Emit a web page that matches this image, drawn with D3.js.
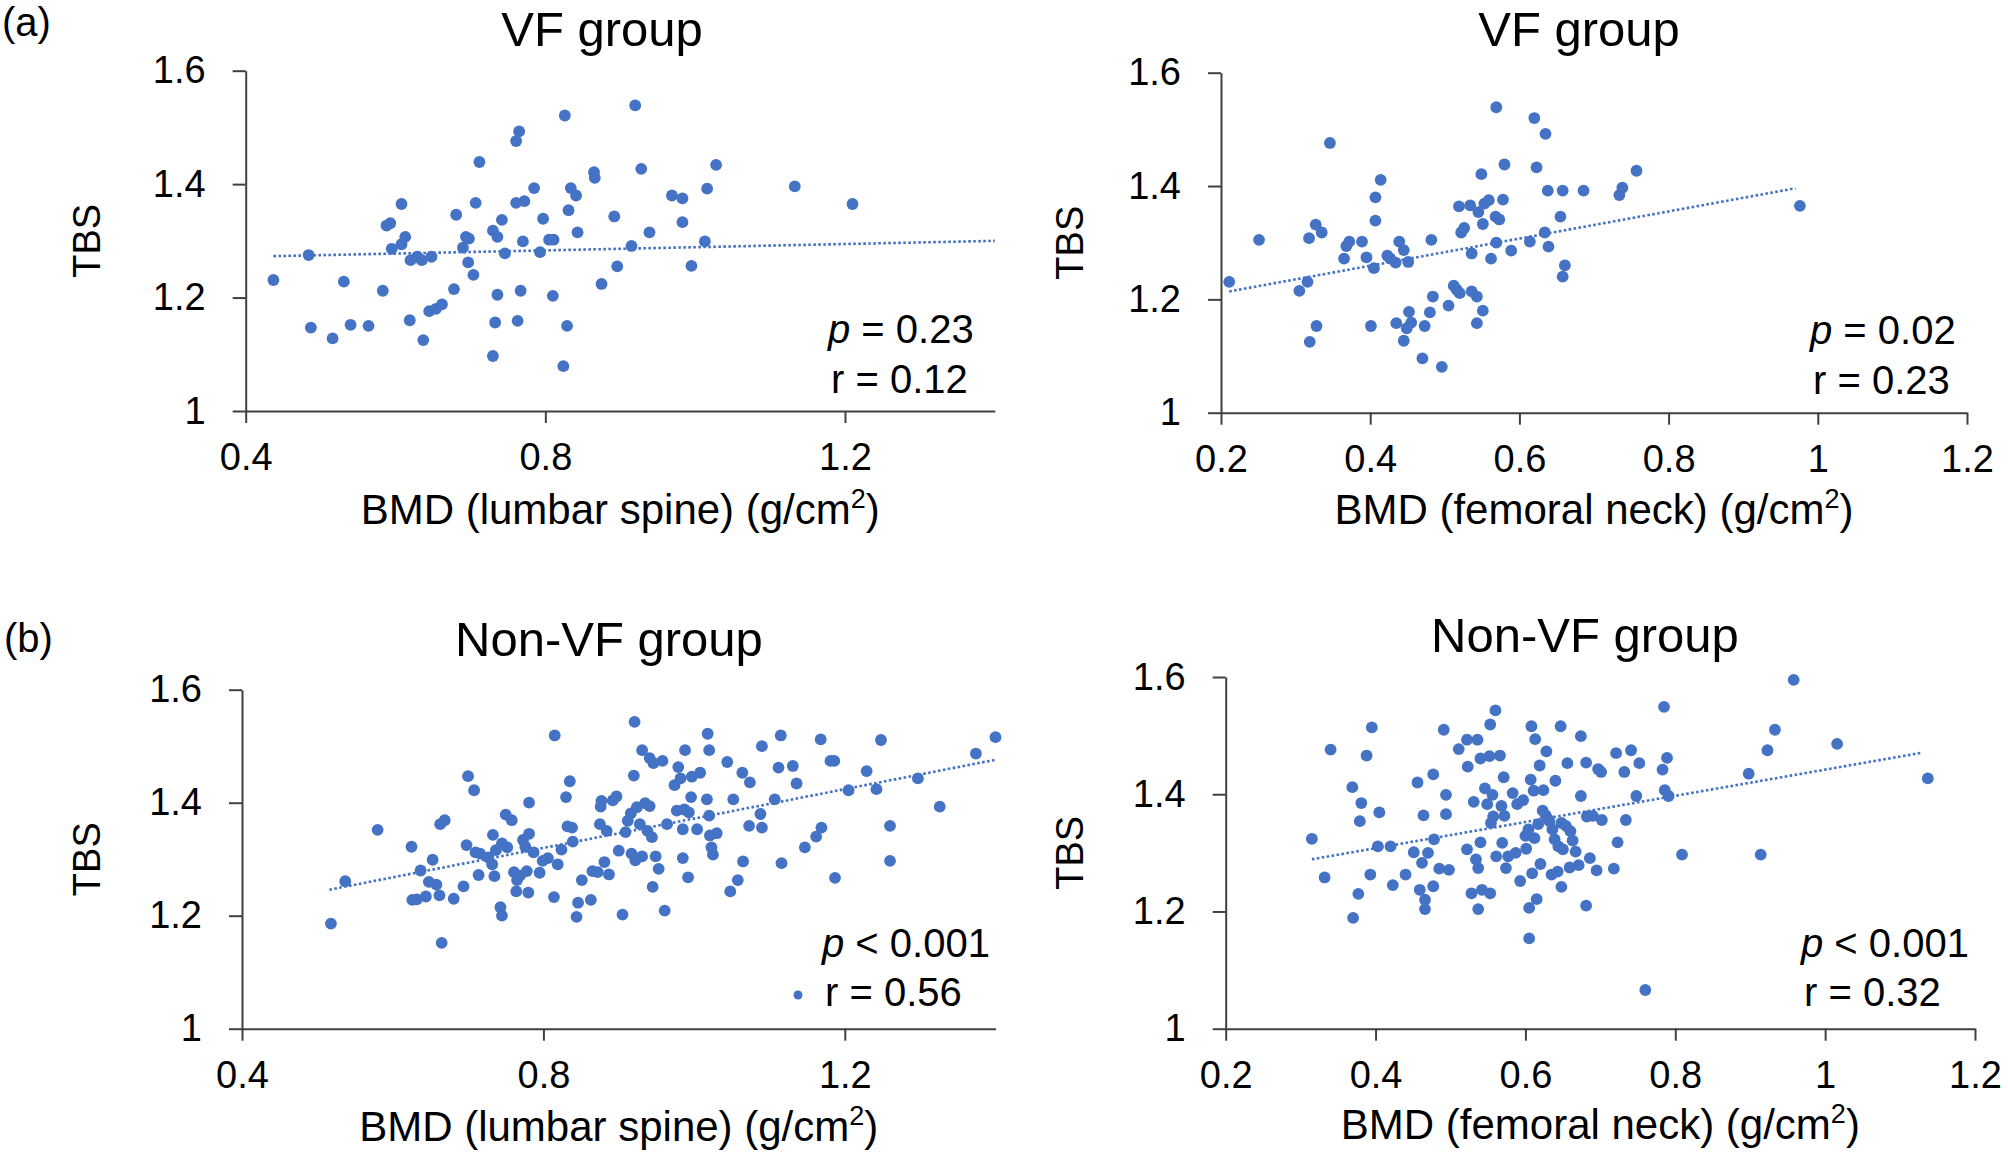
<!DOCTYPE html>
<html><head><meta charset="utf-8">
<script src="https://cdn.jsdelivr.net/npm/d3@7"></script>
<style>
body{margin:0;background:#fff}
svg{display:block}
text{font-family:"Liberation Sans",Arial,sans-serif;fill:#000}
</style>
</head><body>
<svg id="chart" width="2008" height="1152"></svg>
<script>
// ---- DATA (BMD g/cm2, TBS) ----
const vfLumbar = [[0.437,1.231],[0.484,1.275],[0.487,1.147],[0.516,1.128],[0.531,1.228],[0.540,1.152],[0.564,1.150],[0.583,1.212],[0.588,1.327],[0.593,1.331],[0.608,1.365],[0.613,1.307],[0.608,1.294],[0.595,1.286],[0.620,1.266],[0.629,1.272],[0.635,1.266],[0.648,1.272],[0.619,1.160],[0.637,1.125],[0.645,1.176],[0.654,1.180],[0.662,1.188],[0.678,1.215],[0.681,1.346],[0.690,1.288],[0.694,1.307],[0.698,1.304],[0.697,1.262],[0.704,1.240],[0.707,1.367],[0.712,1.439],[0.730,1.318],[0.736,1.307],[0.742,1.337],[0.746,1.278],[0.736,1.205],[0.733,1.156],[0.730,1.097],[0.761,1.476],[0.765,1.493],[0.761,1.367],[0.772,1.370],[0.770,1.299],[0.767,1.212],[0.763,1.159],[0.785,1.393],[0.793,1.280],[0.797,1.339],[0.805,1.302],[0.811,1.302],[0.810,1.203],[0.826,1.521],[0.831,1.354],[0.834,1.393],[0.841,1.380],[0.843,1.315],[0.829,1.150],[0.824,1.079],[0.865,1.421],[0.866,1.411],[0.875,1.224],[0.892,1.343],[0.896,1.255],[0.915,1.291],[0.920,1.539],[0.928,1.427],[0.939,1.315],[0.969,1.380],[0.983,1.375],[0.983,1.333],[0.995,1.256],[1.013,1.299],[1.016,1.392],[1.028,1.434],[1.133,1.396],[1.210,1.365]];
const vfFemoral = [[0.211,1.231],[0.251,1.305],[0.305,1.215],[0.316,1.231],[0.318,1.308],[0.327,1.332],[0.335,1.318],[0.328,1.153],[0.319,1.125],[0.346,1.476],[0.365,1.272],[0.368,1.294],[0.372,1.302],[0.389,1.302],[0.395,1.274],[0.405,1.255],[0.407,1.339],[0.407,1.380],[0.414,1.411],[0.401,1.153],[0.423,1.277],[0.427,1.272],[0.434,1.265],[0.439,1.302],[0.445,1.287],[0.451,1.266],[0.435,1.158],[0.452,1.178],[0.455,1.159],[0.449,1.149],[0.445,1.127],[0.473,1.153],[0.470,1.096],[0.480,1.177],[0.484,1.205],[0.482,1.305],[0.496,1.081],[0.505,1.189],[0.512,1.224],[0.516,1.217],[0.520,1.211],[0.519,1.364],[0.522,1.318],[0.526,1.326],[0.534,1.366],[0.536,1.281],[0.536,1.214],[0.543,1.205],[0.543,1.158],[0.551,1.180],[0.545,1.354],[0.549,1.421],[0.551,1.333],[0.553,1.369],[0.559,1.375],[0.562,1.272],[0.568,1.346],[0.573,1.341],[0.569,1.300],[0.569,1.539],[0.578,1.376],[0.580,1.438],[0.589,1.286],[0.614,1.302],[0.620,1.520],[0.623,1.433],[0.634,1.318],[0.635,1.492],[0.638,1.392],[0.639,1.293],[0.655,1.346],[0.658,1.392],[0.661,1.260],[0.658,1.240],[0.686,1.392],[0.734,1.384],[0.738,1.397],[0.757,1.427],[0.976,1.365]];
const nonVfLumbar = [[0.518,1.186],[0.537,1.261],[0.580,1.352],[0.625,1.322],[0.626,1.228],[0.632,1.229],[0.637,1.280],[0.644,1.234],[0.648,1.260],[0.653,1.299],[0.658,1.255],[0.662,1.236],[0.663,1.362],[0.669,1.369],[0.665,1.152],[0.681,1.230],[0.694,1.252],[0.698,1.325],[0.700,1.447],[0.708,1.422],[0.710,1.312],[0.714,1.272],[0.716,1.310],[0.727,1.303],[0.732,1.291],[0.733,1.343],[0.735,1.270],[0.737,1.316],[0.743,1.215],[0.745,1.200],[0.745,1.328],[0.750,1.379],[0.752,1.321],[0.758,1.369],[0.761,1.277],[0.764,1.243],[0.765,1.263],[0.769,1.271],[0.773,1.334],[0.776,1.322],[0.778,1.279],[0.780,1.241],[0.781,1.345],[0.781,1.400],[0.787,1.312],[0.795,1.276],[0.799,1.297],[0.806,1.302],[0.814,1.233],[0.815,1.519],[0.819,1.291],[0.824,1.317],[0.830,1.410],[0.832,1.358],[0.835,1.438],[0.838,1.356],[0.839,1.331],[0.844,1.198],[0.846,1.223],[0.851,1.263],[0.863,1.228],[0.865,1.279],[0.872,1.277],[0.875,1.362],[0.876,1.393],[0.877,1.403],[0.881,1.295],[0.884,1.350],[0.887,1.273],[0.892,1.404],[0.897,1.411],[0.900,1.315],[0.905,1.202],[0.909,1.348],[0.912,1.368],[0.916,1.381],[0.917,1.310],[0.920,1.448],[0.921,1.543],[0.922,1.298],[0.924,1.392],[0.928,1.362],[0.931,1.493],[0.931,1.305],[0.935,1.399],[0.938,1.350],[0.941,1.479],[0.941,1.394],[0.944,1.339],[0.945,1.251],[0.946,1.470],[0.949,1.305],[0.953,1.283],[0.958,1.474],[0.961,1.209],[0.964,1.362],[0.974,1.431],[0.977,1.386],[0.979,1.463],[0.982,1.443],[0.985,1.353],[0.985,1.302],[0.987,1.388],[0.988,1.493],[0.992,1.268],[0.993,1.383],[0.996,1.410],[0.997,1.446],[1.004,1.353],[1.008,1.453],[1.017,1.406],[1.018,1.522],[1.020,1.493],[1.020,1.377],[1.021,1.342],[1.023,1.321],[1.025,1.308],[1.030,1.346],[1.044,1.472],[1.048,1.243],[1.052,1.406],[1.058,1.263],[1.064,1.453],[1.065,1.296],[1.074,1.436],[1.073,1.359],[1.088,1.380],[1.090,1.356],[1.090,1.500],[1.107,1.406],[1.112,1.462],[1.115,1.519],[1.116,1.293],[1.131,1.465],[1.136,1.434],[1.147,1.321],[1.162,1.340],[1.169,1.356],[1.168,1.512],[1.181,1.474],[1.186,1.474],[1.187,1.267],[1.205,1.422],[1.229,1.456],[1.242,1.424],[1.248,1.511],[1.260,1.359],[1.260,1.297],[1.297,1.443],[1.326,1.393],[1.374,1.487],[1.400,1.516]];
const nonVfFemoral = [[0.315,1.324],[0.332,1.258],[0.340,1.476],[0.369,1.412],[0.370,1.189],[0.377,1.230],[0.379,1.354],[0.381,1.385],[0.388,1.466],[0.393,1.263],[0.395,1.514],[0.403,1.311],[0.405,1.369],[0.420,1.311],[0.423,1.245],[0.440,1.263],[0.451,1.301],[0.456,1.420],[0.459,1.237],[0.462,1.283],[0.464,1.364],[0.466,1.220],[0.466,1.204],[0.470,1.300],[0.477,1.434],[0.477,1.243],[0.478,1.323],[0.485,1.273],[0.491,1.510],[0.494,1.366],[0.494,1.399],[0.498,1.271],[0.511,1.477],[0.522,1.493],[0.523,1.447],[0.522,1.306],[0.528,1.231],[0.531,1.387],[0.534,1.289],[0.536,1.493],[0.537,1.204],[0.540,1.461],[0.540,1.318],[0.537,1.274],[0.542,1.237],[0.546,1.410],[0.549,1.383],[0.552,1.465],[0.553,1.519],[0.553,1.231],[0.554,1.351],[0.556,1.399],[0.557,1.362],[0.560,1.543],[0.561,1.294],[0.566,1.466],[0.568,1.380],[0.569,1.317],[0.571,1.429],[0.572,1.363],[0.574,1.274],[0.577,1.294],[0.583,1.402],[0.587,1.300],[0.589,1.383],[0.593,1.252],[0.597,1.390],[0.600,1.329],[0.601,1.307],[0.604,1.340],[0.605,1.206],[0.605,1.154],[0.607,1.425],[0.608,1.516],[0.609,1.265],[0.611,1.406],[0.612,1.325],[0.613,1.494],[0.615,1.221],[0.617,1.349],[0.619,1.449],[0.620,1.281],[0.623,1.372],[0.624,1.407],[0.627,1.364],[0.628,1.473],[0.630,1.358],[0.632,1.354],[0.635,1.263],[0.636,1.340],[0.639,1.323],[0.640,1.423],[0.643,1.268],[0.644,1.311],[0.647,1.516],[0.648,1.351],[0.648,1.242],[0.650,1.306],[0.654,1.346],[0.656,1.453],[0.659,1.275],[0.660,1.337],[0.663,1.321],[0.667,1.302],[0.671,1.279],[0.674,1.499],[0.674,1.397],[0.681,1.210],[0.681,1.454],[0.682,1.362],[0.686,1.291],[0.690,1.363],[0.695,1.270],[0.697,1.443],[0.701,1.438],[0.702,1.356],[0.718,1.273],[0.721,1.470],[0.723,1.318],[0.732,1.438],[0.734,1.356],[0.741,1.475],[0.748,1.397],[0.752,1.453],[0.760,1.066],[0.783,1.442],[0.785,1.549],[0.786,1.407],[0.789,1.462],[0.791,1.397],[0.809,1.297],[0.898,1.435],[0.914,1.297],[0.923,1.475],[0.933,1.510],[0.958,1.595],[1.016,1.486],[1.137,1.427]];

// trend line end points
const trendVfLumbar = [[0.437,1.273],[1.4,1.300]];
const trendVfFemoral = [[0.211,1.214],[0.970,1.396]];
const trendNonVfLumbar = [[0.516,1.246],[1.400,1.476]];
const trendNonVfFemoral = [[0.315,1.289],[1.130,1.471]];

const yTicks = [1, 1.2, 1.4, 1.6];
const xTicksLumbar = [0.4, 0.8, 1.2];
const xTicksFemoral = [0.2, 0.4, 0.6, 0.8, 1.0, 1.2];

const titles = ["VF group", "VF group", "Non-VF group", "Non-VF group"];
const xLabels = ["BMD (lumbar spine) (g/cm", "BMD (femoral neck) (g/cm", "BMD (lumbar spine) (g/cm", "BMD (femoral neck) (g/cm"];
const pTexts = [" = 0.23", " = 0.02", " < 0.001", " < 0.001"];
const rTexts = ["r = 0.12", "r = 0.23", "r = 0.56", "r = 0.32"];

// ---- LAYOUT ----
const BLUE = "#4472C4";
const panels = [
  {data: vfLumbar, trend: trendVfLumbar, xd:[0.4,1.4], xt:xTicksLumbar, px:[245.7,994.8], py:[411,70.7], titleX:602, titleY:46, tbsX:100, statX:828, pY:343, rY:393, labY:524},
  {data: vfFemoral, trend: trendVfFemoral, xd:[0.2,1.2], xt:xTicksFemoral, px:[1221,1967], py:[412.7,72.7], titleX:1579, titleY:46, tbsX:1083, statX:1810, pY:344, rY:394, labY:524},
  {data: nonVfLumbar, trend: trendNonVfLumbar, xd:[0.4,1.4], xt:xTicksLumbar, px:[242,995.5], py:[1028.7,689.7], titleX:609, titleY:656, tbsX:100, statX:822, pY:957, rY:1006, labY:1141, legendDot:[798,995]},
  {data: nonVfFemoral, trend: trendNonVfFemoral, xd:[0.2,1.2], xt:xTicksFemoral, px:[1225.7,1975], py:[1028.7,677], titleX:1585, titleY:652, tbsX:1083, statX:1801, pY:957, rY:1006, labY:1139}
];

const svg = d3.select("#chart");
svg.append("rect").attr("width",2008).attr("height",1152).attr("fill","#fff");

const fmt = d => String(+(+d).toFixed(1));
const AX = "#404040";

panels.forEach((p, i) => {
  const x = d3.scaleLinear().domain(p.xd).range(p.px);
  const y = d3.scaleLinear().domain([1, 1.6]).range(p.py);
  const g = svg.append("g");

  // y axis
  const ya = g.append("g").attr("transform", `translate(${p.px[0]},0)`)
    .call(d3.axisLeft(y).tickValues(yTicks).tickSize(13).tickSizeOuter(0).tickPadding(27).tickFormat(fmt));
  // x axis
  const xa = g.append("g").attr("transform", `translate(0,${p.py[0]})`)
    .call(d3.axisBottom(x).tickValues(p.xt).tickSize(12).tickSizeOuter(0).tickPadding(20).tickFormat(fmt));
  [ya, xa].forEach(a => {
    a.selectAll("path.domain").attr("stroke", AX).attr("stroke-width", 2);
    a.selectAll(".tick line").attr("stroke", AX).attr("stroke-width", 2);
    a.selectAll(".tick text").attr("font-size", 38).attr("fill", "#000")
      .style("font-family", '"Liberation Sans",Arial,sans-serif');
  });

  // trend line (dotted)
  g.append("path")
    .attr("d", d3.line().x(d => x(d[0])).y(d => y(d[1]))(p.trend))
    .attr("fill", "none").attr("stroke", BLUE).attr("stroke-width", 2.6)
    .attr("stroke-dasharray", "2.6 2.4");

  // points
  g.append("g").selectAll("circle").data(p.data).join("circle")
    .attr("cx", d => x(d[0])).attr("cy", d => y(d[1])).attr("r", 5.9).attr("fill", BLUE);

  // title
  g.append("text").attr("x", p.titleX).attr("y", p.titleY).attr("text-anchor", "middle")
    .attr("font-size", 49).text(titles[i]);

  // y label
  const cy = (p.py[0] + p.py[1]) / 2;
  g.append("text").attr("transform", `translate(${p.tbsX},${cy}) rotate(-90)`)
    .attr("text-anchor", "middle").attr("font-size", 38).text("TBS");

  // x label
  const cx = (p.px[0] + p.px[1]) / 2;
  const xl = g.append("text").attr("x", cx).attr("y", p.labY).attr("text-anchor", "middle").attr("font-size", 42);
  xl.append("tspan").text(xLabels[i]);
  xl.append("tspan").attr("font-size", 27).attr("dy", -16).text("2");
  xl.append("tspan").attr("dy", 16).text(")");

  // stats
  const pt = g.append("text").attr("x", p.statX).attr("y", p.pY).attr("font-size", 40);
  pt.append("tspan").attr("font-style", "italic").text("p");
  pt.append("tspan").text(pTexts[i]);
  g.append("text").attr("x", p.statX + 3).attr("y", p.rY).attr("font-size", 40).text(rTexts[i]);
  if (p.legendDot) {
    g.append("circle").attr("cx", p.legendDot[0]).attr("cy", p.legendDot[1]).attr("r", 4.5).attr("fill", BLUE);
  }
});

// panel letters
svg.append("text").attr("x", 2).attr("y", 36).attr("font-size", 40).text("(a)");
svg.append("text").attr("x", 4).attr("y", 652).attr("font-size", 40).text("(b)");
</script>
</body></html>
